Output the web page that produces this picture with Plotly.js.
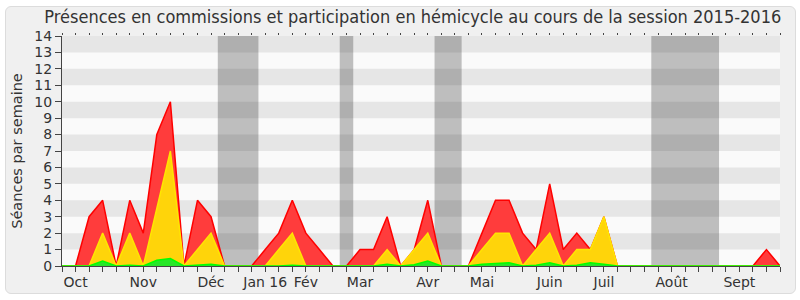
<!DOCTYPE html>
<html>
<head>
<meta charset="utf-8">
<script src="https://cdn.plot.ly/plotly-3.0.1.min.js"></script>
<style>
  html, body { margin: 0; padding: 0; background: #ffffff; }
  #frame { position: absolute; left: 5px; top: 6px; width: 789px; height: 286px;
           background: #f0f0f0; border: 1px solid #dcdcdc; border-radius: 6px; }
  #chart { position: absolute; left: 0; top: 0; width: 800px; height: 300px; }
</style>
</head>
<body>
<div id="frame"></div>
<div id="chart"></div>
<script>
// Weekly index (0 = first week of the session)
const weeks = Array.from({length: 54}, (_, i) => i);

// Séances par semaine — présences en commission (red)
const presences = [0,0,3,4,0,4,2,8,10,0,4,3,0,0,0,1,2,4,2,1,
                   0,0,1,1,3,0,1,4,0,0,0,2,4,4,2,1,5,1,2,1,
                   3,0,0,0,0,0,0,0,0,0,0,0,1,0];
// Participation en hémicycle (yellow)
const participations = [0,0,0,2,0,2,0,3.5,7,0,1,2,0,0,0,0,1,2,0,0,
                        0,0,0,0,1,0,1,2,0,0,0,1,2,2,0,1,2,0,1,1,
                        3,0,0,0,0,0,0,0,0,0,0,0,0,0];
// Interventions (green)
const interventions = [0,0,0,0.3,0,0.05,0,0.35,0.45,0,0.05,0.1,0,0,0,0,0,0.05,0,0,
                       0,0,0,0,0.1,0,0.08,0.3,0,0,0,0.1,0.15,0.2,0,0.05,0.2,0,0.05,0.2,
                       0.1,0,0,0,0,0,0,0,0,0,0,0,0,0];

// Month labels and the week where each is shown
const monthWeeks = [1,6,11,15,18,22,27,31,36,40,45,50];
const monthLabels = ['Oct','Nov','Déc','Jan 16','Fév','Mar','Avr','Mai','Juin','Juil','Août','Sept'];

// Parliamentary breaks (week ranges)
const breakStart = [11.5, 20.5, 27.5, 43.5];
const breakEnd   = [14.5, 21.5, 29.5, 48.5];

const yMax = 14;

const tickText = weeks.map(w => {
  const k = monthWeeks.indexOf(w);
  return k >= 0 ? monthLabels[k] : '';
});

const shapes = [];
for (let k = 1; k < yMax; k += 2) {
  shapes.push({type:'rect', xref:'paper', yref:'y', x0:0, x1:1, y0:k, y1:k+1,
               fillcolor:'#e6e6e6', line:{width:0}, layer:'below'});
}
for (let k = 0; k < breakStart.length; k++) {
  shapes.push({type:'rect', xref:'x', yref:'paper', x0:breakStart[k], x1:breakEnd[k], y0:0, y1:1,
               fillcolor:'rgba(0,0,0,0.24)', line:{width:0}, layer:'below'});
}

const traces = [
  {x: weeks, y: presences, type:'scatter', mode:'lines', fill:'tozeroy',
   fillcolor:'rgb(255,60,60)', line:{color:'#ff0000', width:1.5}, hoverinfo:'skip'},
  {x: weeks, y: participations, type:'scatter', mode:'lines', fill:'tozeroy',
   fillcolor:'rgb(255,212,10)', line:{color:'#ffe600', width:1.5}, hoverinfo:'skip'},
  {x: weeks, y: interventions, type:'scatter', mode:'lines', fill:'tozeroy',
   fillcolor:'rgb(40,230,40)', line:{color:'#00ff00', width:1.5}, hoverinfo:'skip'},
  {x: [0, 53], y: [0, 0], xaxis:'x2', type:'scatter', mode:'lines',
   line:{width:0}, opacity:0, hoverinfo:'skip'}
];

const layout = {
  width: 800, height: 300,
  margin: {l:62, r:20, t:36, b:34},
  paper_bgcolor: 'rgba(0,0,0,0)',
  plot_bgcolor: '#fafafa',
  showlegend: false,
  font: {family:'DejaVu Sans, sans-serif', size:14, color:'#333'},
  title: {text:'Présences en commissions et participation en hémicycle au cours de la session 2015-2016',
          font:{family:'DejaVu Sans Condensed, DejaVu Sans, sans-serif', size:18, color:'#333'},
          x:0.516, xanchor:'center', xref:'container', y:0.943, yanchor:'middle', yref:'container'},
  xaxis: {range:[0,53], tickmode:'array', tickvals:weeks, ticktext:tickText,
          ticks:'outside', ticklen:5, tickcolor:'#444', showgrid:false, zeroline:false,
          showline:true, linecolor:'#444', linewidth:1, tickangle:0, ticklabelstandoff:-2,
          tickfont:{size:14, color:'#333'}, fixedrange:true},
  xaxis2: {range:[0,53], overlaying:'x', side:'top', anchor:'y', tickmode:'array', tickvals:weeks,
           showticklabels:false, ticks:'outside', ticklen:2, tickcolor:'#444',
           showgrid:false, zeroline:false, showline:false},
  yaxis: {range:[0,yMax], tickmode:'linear', tick0:0, dtick:1, ticks:'outside', ticklen:6,
          tickcolor:'#444', showgrid:false, zeroline:false, showline:true, linecolor:'#444',
          linewidth:1, tickfont:{size:14, color:'#333'},
          title:{text:'Séances par semaine', font:{size:14.5, color:'#333'}, standoff:8}},
  shapes: shapes
};

Plotly.newPlot('chart', traces, layout, {staticPlot:true, displayModeBar:false});
</script>
</body>
</html>
